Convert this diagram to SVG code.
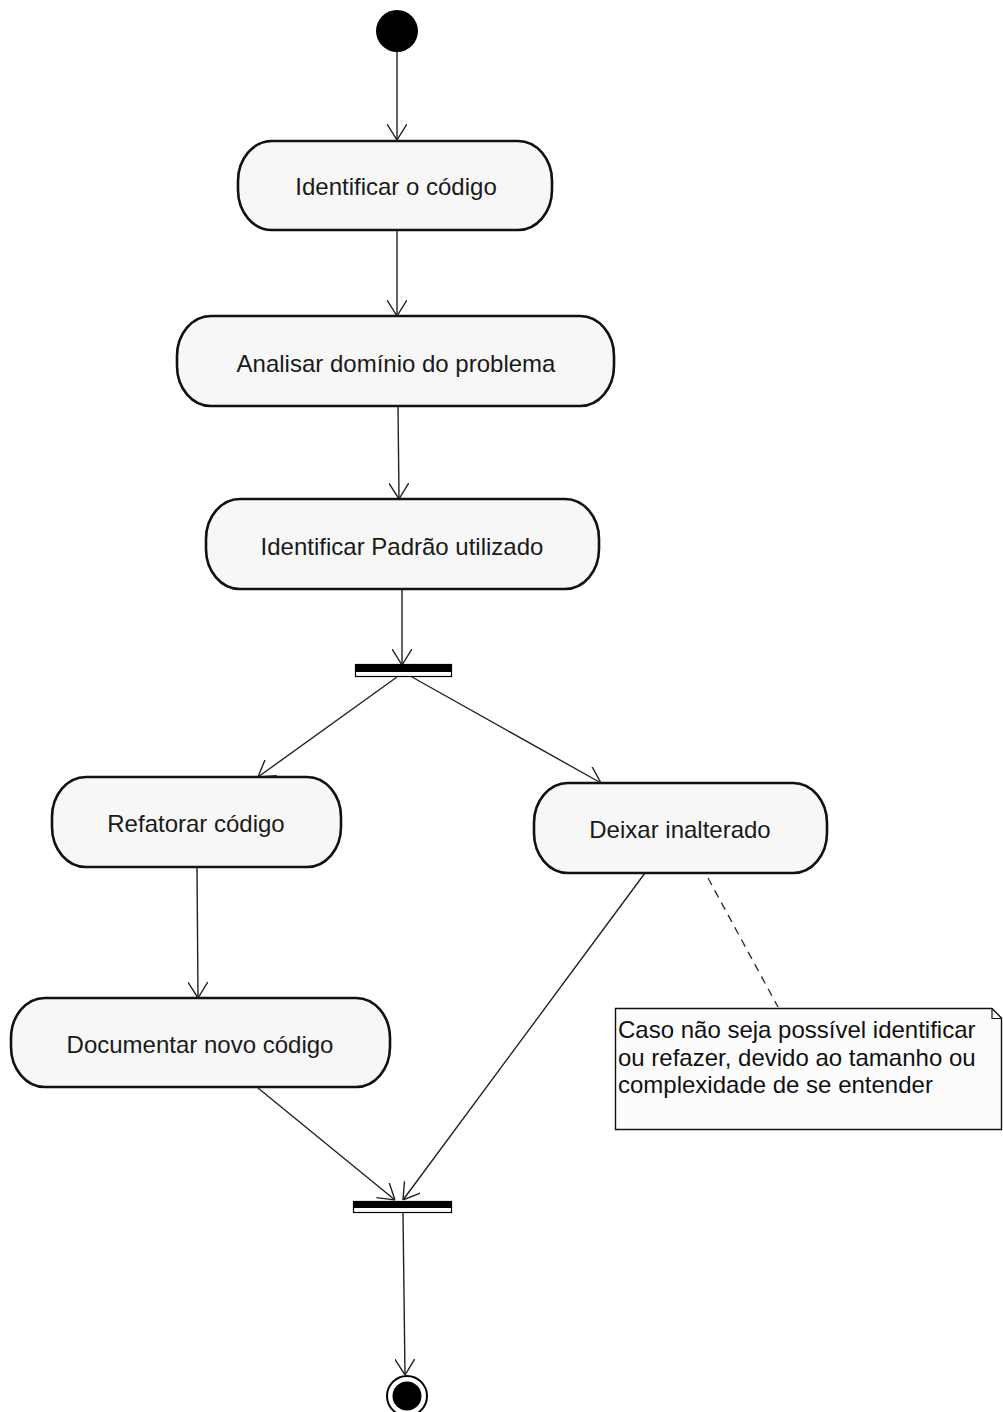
<svg xmlns="http://www.w3.org/2000/svg" width="1003" height="1412" viewBox="0 0 1003 1412">
<defs>
<marker id="arr" viewBox="0 0 16 20" refX="16" refY="10" markerWidth="16" markerHeight="20" markerUnits="userSpaceOnUse" orient="auto">
<path d="M0,0 L16,10 L0,20" fill="none" stroke="#222" stroke-width="1.4"/>
</marker>
</defs>
<style>
.act{fill:#f7f7f7;stroke:#111;stroke-width:2.6}
.lbl{font-family:"Liberation Sans",Arial,sans-serif;font-size:24px;fill:#1a1a1a;text-anchor:middle}
.ntxt{font-family:"Liberation Sans",Arial,sans-serif;font-size:24px;fill:#111}
.edge{fill:none;stroke:#222;stroke-width:1.4;marker-end:url(#arr)}
.dash{fill:none;stroke:#333;stroke-width:1.4;stroke-dasharray:8,6}
</style>
<rect width="1003" height="1412" fill="#fff"/>
<g id="connectors">
<line class="edge" x1="397" y1="52" x2="397" y2="140"/>
<line class="edge" x1="397" y1="230" x2="397" y2="316"/>
<line class="edge" x1="398" y1="406" x2="399" y2="499"/>
<line class="edge" x1="402" y1="589" x2="402" y2="665"/>
<line class="edge" x1="397" y1="677" x2="258" y2="777"/>
<line class="edge" x1="412" y1="677" x2="601" y2="783"/>
<line class="edge" x1="197" y1="867" x2="198" y2="998"/>
<line class="edge" x1="258" y1="1088" x2="395" y2="1200"/>
<line class="edge" x1="645" y1="873" x2="403" y2="1200"/>
<line class="edge" x1="403" y1="1213" x2="405" y2="1375"/>
<line class="dash" x1="708" y1="878" x2="778" y2="1007"/>
</g>
<g id="start"><circle cx="397" cy="31" r="21" fill="#000"/></g>
<g id="n1"><rect class="act" x="238" y="141" width="314" height="89" rx="34" ry="40"/><text class="lbl" x="396" y="195">Identificar o código</text></g>
<g id="n2"><rect class="act" x="177" y="316" width="437" height="90" rx="34" ry="40"/><text class="lbl" x="396" y="372">Analisar domínio do problema</text></g>
<g id="n3"><rect class="act" x="206" y="499" width="393" height="90" rx="34" ry="40"/><text class="lbl" x="402" y="555">Identificar Padrão utilizado</text></g>
<g id="fork"><rect x="355.5" y="664.5" width="96" height="12" fill="#fff" stroke="#000" stroke-width="1.2"/><rect x="355" y="664" width="97" height="8" fill="#000"/></g>
<g id="n4"><rect class="act" x="52" y="777" width="289" height="90" rx="34" ry="40"/><text class="lbl" x="196" y="832">Refatorar código</text></g>
<g id="n5"><rect class="act" x="534" y="783" width="293" height="90" rx="34" ry="40"/><text class="lbl" x="680" y="838">Deixar inalterado</text></g>
<g id="n6"><rect class="act" x="11" y="998" width="379" height="89" rx="34" ry="40"/><text class="lbl" x="200" y="1053">Documentar novo código</text></g>
<g id="note">
<path d="M615.5,1008.5 H992 L1001.5,1018 V1129.5 H615.5 Z" fill="#fcfcfc" stroke="#111" stroke-width="1.4"/>
<path d="M992,1008.5 V1018.5 H1001.5" fill="none" stroke="#111" stroke-width="1.2"/>
<text class="ntxt" x="618" y="1038">Caso não seja possível identificar</text>
<text class="ntxt" x="618" y="1066">ou refazer, devido ao tamanho ou</text>
<text class="ntxt" x="618" y="1093">complexidade de se entender</text>
</g>
<g id="join"><rect x="353.5" y="1201.5" width="98" height="11" fill="#fff" stroke="#000" stroke-width="1.2"/><rect x="353" y="1201" width="99" height="7" fill="#000"/></g>
<g id="end"><circle cx="407" cy="1396" r="20" fill="#fff" stroke="#000" stroke-width="2"/><circle cx="407" cy="1396" r="14.5" fill="#000"/></g>
</svg>
